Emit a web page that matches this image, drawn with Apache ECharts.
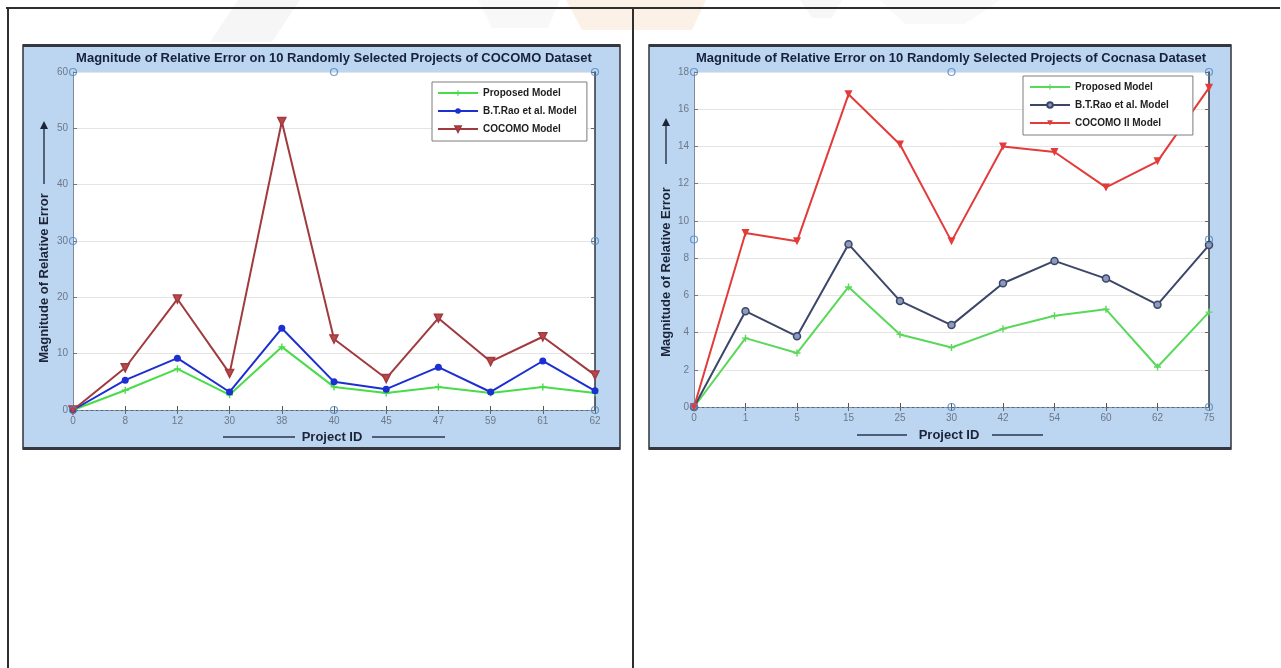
<!DOCTYPE html>
<html>
<head>
<meta charset="utf-8">
<script src="https://cdn.jsdelivr.net/npm/echarts@6/dist/echarts.min.js"></script>
<style>
  html, body { margin: 0; padding: 0; background: #ffffff; }
  #chart { width: 1281px; height: 668px; }
</style>
</head>
<body>
<div id="chart"></div>
<script>
// ---- COCOMO dataset (left panel) ----
const cocomoProjects = ['0', '8', '12', '30', '38', '40', '45', '47', '59', '61', '62'];
const cocomoProposed = [0, 3.5, 7.3, 2.7, 11.2, 4.1, 3.0, 4.1, 3.0, 4.1, 3.0];
const cocomoRao      = [0, 5.3, 9.2, 3.2, 14.5, 5.0, 3.7, 7.6, 3.2, 8.7, 3.4];
const cocomoBasic    = [0, 7.5, 19.7, 6.5, 51.2, 12.6, 5.6, 16.3, 8.6, 13.0, 6.2];
const cocomoTicks    = [0, 10, 20, 30, 40, 50, 60];
// figure-editor handles on the selected axes: [category index, value]
const cocomoHandles  = [[0, 60], [5, 60], [10, 60], [10, 30], [5, 0], [10, 0], [0, 0], [0, 30]];

// ---- Cocnasa dataset (right panel) ----
const cocnasaProjects = ['0', '1', '5', '15', '25', '30', '42', '54', '60', '62', '75'];
const cocnasaProposed = [0, 3.7, 2.9, 6.45, 3.9, 3.2, 4.2, 4.9, 5.25, 2.15, 5.1];
const cocnasaRao      = [0, 5.15, 3.8, 8.75, 5.7, 4.4, 6.65, 7.85, 6.9, 5.5, 8.7];
const cocnasaCocomo2  = [0, 9.35, 8.9, 16.8, 14.1, 8.9, 14.0, 13.7, 11.8, 13.2, 17.15];
const cocnasaTicks    = [0, 2, 4, 6, 8, 10, 12, 14, 16, 18];
const cocnasaHandles  = [[0, 18], [5, 18], [10, 18], [10, 9], [5, 0], [10, 0], [0, 0], [0, 9]];

const titles = [
  'Magnitude of Relative Error on 10 Randomly Selected Projects of COCOMO Dataset',
  'Magnitude of Relative Error on 10 Randomly Selected Projects of Cocnasa Dataset'
];
const yName = 'Magnitude of Relative Error';
const xName = 'Project ID';

const FONT = '"Liberation Sans", Arial, sans-serif';
const PLUS = 'path://M4 0H6V4H10V6H6V10H4V6H0V4H4Z';
const DOWN_TRI = 'path://M0 0L10 0L5 9Z';

const chart = echarts.init(document.getElementById('chart'), null, { renderer: 'canvas' });

function axesFor(gi, cats, ticks) {
  const lbl = { color: '#6c7888', fontSize: 10, fontFamily: FONT };
  return {
    x: [
      {
        type: 'category', gridIndex: gi, data: cats, boundaryGap: false,
        axisLine: { lineStyle: { color: '#3c4450', width: 1.2 } },
        axisTick: { inside: true, length: 4, alignWithLabel: true, lineStyle: { color: '#555' } },
        axisLabel: Object.assign({ margin: 6 }, lbl),
        splitLine: { show: false }
      },
      {
        type: 'category', gridIndex: gi, data: cats, boundaryGap: false, position: 'top',
        axisLine: { lineStyle: { color: '#7f93ad', width: 1, type: [3, 2] } },
        axisTick: { inside: true, length: 4, lineStyle: { color: '#666' } },
        axisLabel: { show: false },
        splitLine: { show: false }
      }
    ],
    y: [
      {
        type: 'value', gridIndex: gi, min: ticks[0], max: ticks[ticks.length - 1],
        interval: ticks[1] - ticks[0],
        axisLine: { show: true, lineStyle: { color: '#7d8ba0', width: 1 } },
        axisTick: { show: true, inside: true, length: 4, lineStyle: { color: '#777' } },
        axisLabel: Object.assign({ margin: 5 }, lbl),
        splitLine: { show: true, lineStyle: { color: '#e4e4e4', width: 1 } }
      },
      {
        type: 'value', gridIndex: gi, min: ticks[0], max: ticks[ticks.length - 1],
        interval: ticks[1] - ticks[0], position: 'right',
        axisLine: { show: true, lineStyle: { color: '#2c3440', width: 1.5 } },
        axisTick: { show: true, inside: true, length: 4, lineStyle: { color: '#666' } },
        axisLabel: { show: false },
        splitLine: { show: false }
      }
    ]
  };
}

const a0 = axesFor(0, cocomoProjects, cocomoTicks);
const a1 = axesFor(1, cocnasaProjects, cocnasaTicks);

function lineSeries(name, data, xi, yi, color, symbol, size, fill) {
  return {
    name, type: 'line', data, xAxisIndex: xi, yAxisIndex: yi,
    symbol, symbolSize: size, showSymbol: true, z: 3,
    lineStyle: { color, width: 2 },
    itemStyle: { color: fill || color, borderColor: color, borderWidth: fill ? 1.5 : 0 },
    emphasis: { disabled: true },
    animation: false
  };
}

function handleSeries(data, xi, yi) {
  return {
    name: 'handles', type: 'scatter', data, xAxisIndex: xi, yAxisIndex: yi,
    symbol: 'circle', symbolSize: 7, z: 6, silent: true,
    itemStyle: { color: 'rgba(255,255,255,0)', borderColor: '#4f86c0', borderWidth: 1.2 },
    animation: false
  };
}

const legendBase = {
  orient: 'vertical', itemWidth: 40, itemHeight: 7, itemGap: 8,
  backgroundColor: '#ffffff', borderColor: '#7c7c7c', borderWidth: 1,
  borderRadius: 0, padding: [6, 8, 6, 5],
  textStyle: { fontSize: 10, fontWeight: 'bold', color: '#1e1e1e', fontFamily: FONT },
  selectedMode: false
};

// decorative pieces: table rules, panel frames, axis names with arrows
function panelFrame(x0, x1) {
  return [
    { type: 'rect', shape: { x: x0, y: 45, width: x1 - x0, height: 404 },
      style: { fill: '#bcd6f1', stroke: '#2f3338', lineWidth: 1.5 }, z: -10 },
    { type: 'rect', shape: { x: x0, y: 44, width: x1 - x0, height: 3 },
      style: { fill: '#34383e' }, z: -9 },
    { type: 'rect', shape: { x: x0, y: 447, width: x1 - x0, height: 3 },
      style: { fill: '#34383e' }, z: -9 }
  ];
}

function yNameGraphic(cx, cy, arrowBottom, arrowTop) {
  return [
    { type: 'text', x: cx, y: cy, rotation: Math.PI / 2,
      style: { text: yName, font: 'bold 13px ' + FONT, fill: '#1c2438', align: 'center', verticalAlign: 'middle' } },
    { type: 'line', shape: { x1: cx, y1: arrowBottom, x2: cx, y2: arrowTop + 6 },
      style: { stroke: '#1c2438', lineWidth: 1.3 } },
    { type: 'polygon', shape: { points: [[cx - 4, arrowTop + 8], [cx + 4, arrowTop + 8], [cx, arrowTop]] },
      style: { fill: '#1c2438' } }
  ];
}

function xNameGraphic(l1a, l1b, cx, l2a, l2b, y) {
  return [
    { type: 'line', shape: { x1: l1a, y1: y, x2: l1b, y2: y }, style: { stroke: '#2a3550', lineWidth: 1.3 } },
    { type: 'text', x: cx, y: y, style: { text: xName, font: 'bold 13px ' + FONT, fill: '#1c2438', align: 'center', verticalAlign: 'middle' } },
    { type: 'line', shape: { x1: l2a, y1: y, x2: l2b, y2: y }, style: { stroke: '#2a3550', lineWidth: 1.3 } }
  ];
}

const watermark = [
  { type: 'polygon', shape: { points: [[238, 0], [300, 0], [272, 42], [210, 42]] }, style: { fill: '#c4c4c4', opacity: 0.15 }, z: -20 },
  { type: 'polygon', shape: { points: [[478, 0], [560, 0], [548, 28], [492, 28]] }, style: { fill: '#cdcdcd', opacity: 0.15 }, z: -20 },
  { type: 'polygon', shape: { points: [[566, 0], [706, 0], [692, 30], [582, 30]] }, style: { fill: '#eea868', opacity: 0.16 }, z: -20 },
  { type: 'polygon', shape: { points: [[800, 0], [842, 0], [832, 18], [812, 18]] }, style: { fill: '#c8c8c8', opacity: 0.15 }, z: -20 },
  { type: 'polygon', shape: { points: [[880, 0], [1000, 0], [965, 24], [905, 24]] }, style: { fill: '#d0d0d0', opacity: 0.12 }, z: -20 }
];

const graphics = [].concat(
  watermark,
  [
    { type: 'line', shape: { x1: 6, y1: 8, x2: 1280, y2: 8 }, style: { stroke: '#2e2e2e', lineWidth: 2 }, z: -15 },
    { type: 'line', shape: { x1: 8, y1: 8, x2: 8, y2: 668 }, style: { stroke: '#2e2e2e', lineWidth: 2 }, z: -15 },
    { type: 'line', shape: { x1: 633, y1: 8, x2: 633, y2: 668 }, style: { stroke: '#2e2e2e', lineWidth: 2 }, z: -15 }
  ],
  panelFrame(23, 620),
  panelFrame(649, 1231),
  [
    { type: 'text', x: 334, y: 58, style: { text: titles[0], font: 'bold 13px ' + FONT, fill: '#17213d', align: 'center', verticalAlign: 'middle' } },
    { type: 'text', x: 951, y: 58, style: { text: titles[1], font: 'bold 13px ' + FONT, fill: '#17213d', align: 'center', verticalAlign: 'middle' } }
  ],
  yNameGraphic(44, 278, 184, 121),
  yNameGraphic(666, 272, 164, 118),
  xNameGraphic(223, 295, 332, 372, 445, 437),
  xNameGraphic(857, 907, 949, 992, 1043, 435)
);

const option = {
  backgroundColor: '#ffffff',
  animation: false,
  textStyle: { fontFamily: FONT },
  grid: [
    { left: 73, top: 72, width: 522, height: 338, backgroundColor: '#ffffff', show: true, borderWidth: 0 },
    { left: 694, top: 72, width: 515, height: 335, backgroundColor: '#ffffff', show: true, borderWidth: 0 }
  ],
  xAxis: a0.x.concat(a1.x),
  yAxis: a0.y.concat(a1.y),
  legend: [
    Object.assign({}, legendBase, { left: 432, top: 82, padding: [6, 10, 7, 5],
      data: ['Proposed Model', 'B.T.Rao et al. Model', 'COCOMO Model'] }),
    Object.assign({}, legendBase, { left: 1023, top: 76, padding: [6, 24, 7, 6],
      data: ['Proposed Model ', 'B.T.Rao et al. Model ', 'COCOMO II Model'],
      formatter: n => n.trim() })
  ],
  series: [
    lineSeries('Proposed Model', cocomoProposed, 0, 0, '#48dc48', PLUS, 7),
    lineSeries('B.T.Rao et al. Model', cocomoRao, 0, 0, '#1c2fd0', 'circle', 7),
    lineSeries('COCOMO Model', cocomoBasic, 0, 0, '#a03a3e', DOWN_TRI, 8, '#b8484c'),
    handleSeries(cocomoHandles, 0, 0),
    lineSeries('Proposed Model ', cocnasaProposed, 2, 2, '#5ad85a', PLUS, 7),
    lineSeries('B.T.Rao et al. Model ', cocnasaRao, 2, 2, '#3c4668', 'circle', 7, '#8b9bbd'),
    lineSeries('COCOMO II Model', cocnasaCocomo2, 2, 2, '#e33a3a', DOWN_TRI, 8),
    handleSeries(cocnasaHandles, 2, 2)
  ],
  graphic: graphics
};

chart.setOption(option);
</script>
</body>
</html>
